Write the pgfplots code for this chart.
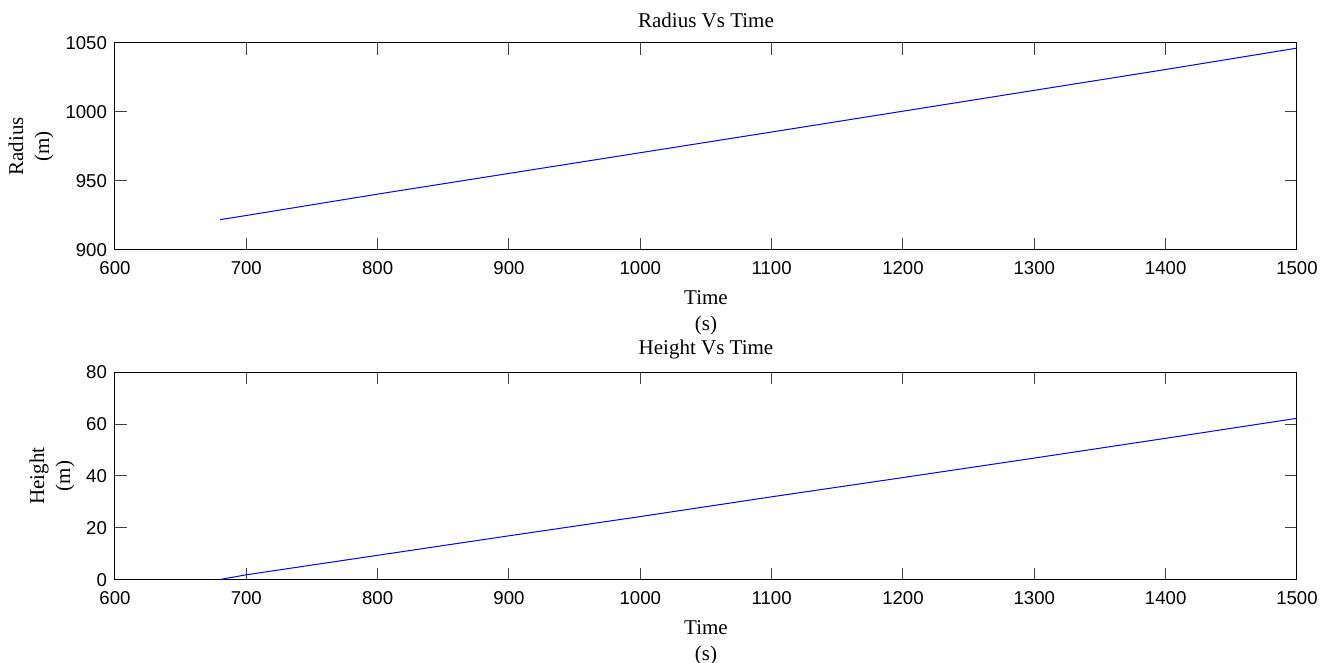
\documentclass[border=0pt]{standalone}
\usepackage{pgfplots}
\pgfplotsset{compat=1.18}
\usepackage{fontspec}
\setmainfont{Liberation Serif}
\newfontfamily\arial{Liberation Sans}
\begin{document}
\begin{tikzpicture}
\pgfplotsset{
  mlab/.style={
    scale only axis, width=591pt,
    xmin=600, xmax=1500,
    xtick={600,700,...,1500},
    axis line style={line width=0.5pt},
    tick align=inside,
    xtick pos=both, ytick pos=both,
    major tick length=6pt,
    tick style={line width=0.5pt, black!75},
    /pgf/number format/assume math mode=true,
    /pgf/number format/1000 sep={},
    tick label style={font=\arial\fontsize{9.3}{10}\selectfont},
    xticklabel style={yshift=-2pt},
    yticklabel style={xshift=-0.5pt},
    label style={font=\fontsize{10.5}{13}\selectfont, align=center},
    title style={font=\fontsize{10.5}{13}\selectfont, at={(0.5,1)}, anchor=center, yshift=5.5pt},
    xlabel style={at={(axis description cs:0.5,0)}, anchor=center, yshift=-31.5pt},
  }
}
\path[use as bounding box] (0,0) rectangle (667.5pt,331.5pt);
\begin{axis}[mlab, name=top, at={(57.5pt,206.5pt)}, anchor=south west,
  height=103.5pt, ymin=900, ymax=1050, ytick={900,950,1000,1050},
  title={Radius Vs Time}, xlabel={Time\\(s)}, ylabel={Radius\\(m)},
  ylabel style={at={(axis description cs:0,0.5)}, anchor=center, yshift=42pt}]
\addplot[blue, line width=0.5pt] coordinates {
(680,922.0) (700,925.0) (800,940.5) (900,955.5) (1000,970.5) (1100,985.5)
(1200,1000.6) (1300,1015.7) (1400,1030.8) (1500,1046.3)};
\end{axis}
\begin{axis}[mlab, name=bot, at={(57.5pt,41.5pt)}, anchor=south west,
  height=104pt, ymin=0, ymax=80, ytick={0,20,40,60,80},
  title={Height Vs Time}, xlabel={Time\\(s)}, ylabel={Height\\(m)},
  ylabel style={at={(axis description cs:0,0.5)}, anchor=center, yshift=31.5pt}]
\addplot[blue, line width=0.5pt] coordinates {
(680,0.2) (700,2.0) (800,9.5) (900,17.0) (1000,24.4) (1100,32.0)
(1200,39.4) (1300,46.9) (1400,54.5) (1500,62.2)};
\end{axis}
\end{tikzpicture}
\end{document}
